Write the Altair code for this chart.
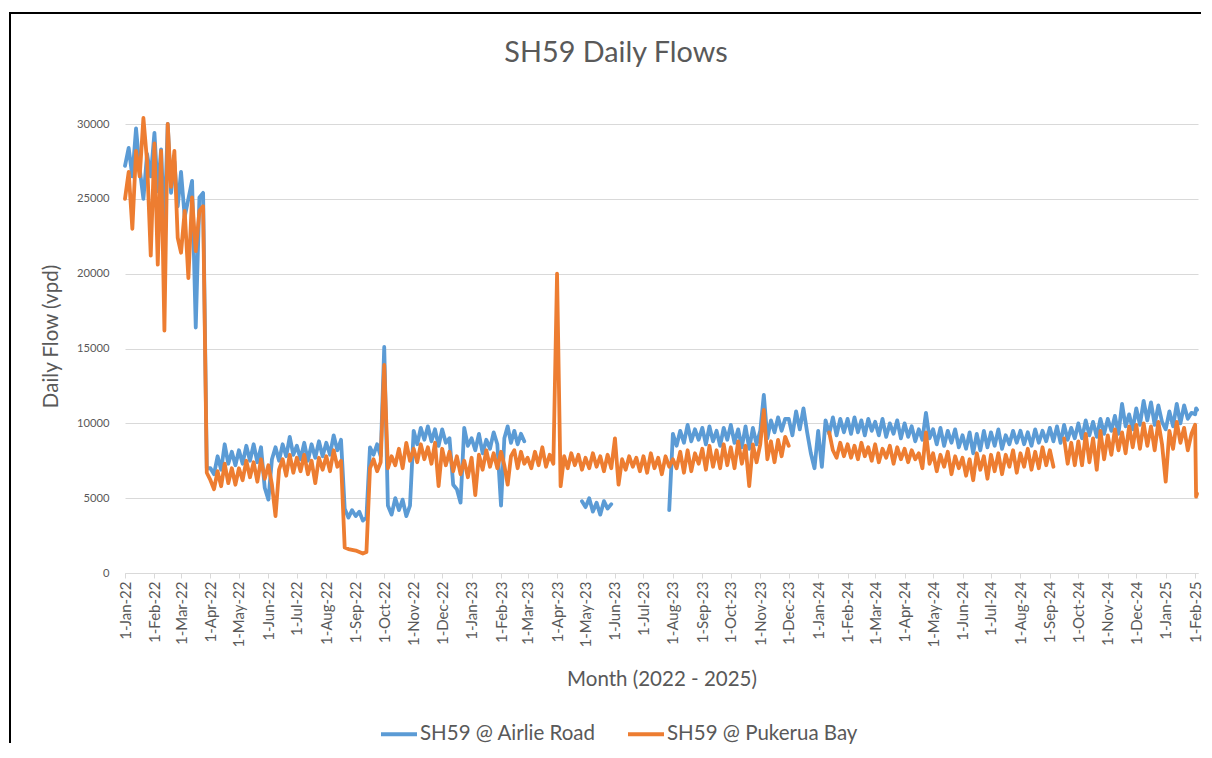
import altair as alt
import pandas as pd

# ---------------- data (8 samples per month) ----------------
chart_title = "SH59 Daily Flows"
series_names = ["SH59 @ Airlie Road", "SH59 @ Pukerua Bay"]
series_colors = ["#5B9BD5", "#ED7D31"]

month_starts = pd.date_range("2022-01-01", "2025-01-01", freq="MS")  # Jan-22 .. Jan-25
feb25_days = ["2025-02-01", "2025-02-02", "2025-02-03"]

airlie = [
    27200, 28400, 26500, 29700, 27000, 25000, 28000, 26500,   # Jan-22
    29400, 25500, 28300, 23000, 30000, 25400, 27500, 24500,   # Feb-22
    26800, 23800, 25000, 26200, 16400, 25100, 25400, 7000,    # Mar-22
    7000, 6600, 7800, 6900, 8600, 7300, 8100, 7200,           # Apr-22
    8200, 7300, 8500, 7500, 8600, 7400, 8400, 5700,           # May-22
    4900, 7600, 8400, 7500, 8600, 7800, 9100, 7900,           # Jun-22
    8500, 7600, 8700, 7500, 8600, 7700, 8800, 7800,           # Jul-22
    8700, 7900, 9200, 8200, 8900, 4300, 3700, 4200,           # Aug-22
    3800, 4100, 3500, 3700, 8400, 7900, 8600, 7800,           # Sep-22
    15100, 4500, 3900, 5000, 4200, 4900, 3800, 4500,          # Oct-22
    9500, 8600, 9700, 8900, 9800, 8800, 9600, 8500,           # Nov-22
    9600, 8700, 9000, 5900, 5600, 4700, 9700, 8500,           # Dec-22
    9000, 8200, 9300, 8000, 8900, 8300, 9400, 8600,           # Jan-23
    4500, 9000, 9800, 8700, 9500, 8600, 9300, 8800,           # Feb-23
    None, None, None, None, None, None, None, None,           # Mar-23
    None, None, None, None, None, None, None, 4800,           # Apr-23
    4400, 5000, 4100, 4700, 3900, 4800, 4300, 4600,           # May-23
    None, None, None, None, None, None, None, None,           # Jun-23
    None, None, None, None, None, None, None, 4200,           # Jul-23
    9300, 8500, 9500, 8700, 9900, 8800, 9600, 8900,           # Aug-23
    9700, 8600, 9800, 8800, 9500, 8500, 9700, 8900,           # Sep-23
    9900, 8700, 9600, 8400, 9800, 8300, 9700, 8600,           # Oct-23
    9500, 11900, 9000, 10200, 9400, 10400, 9500, 10300,       # Nov-23
    10300, 9200, 10800, 9600, 11000, 9400, 8000, 7000,        # Dec-23
    9500, 7100, 10200, 9300, 10400, 9200, 10300, 9400,        # Jan-24
    10300, 9300, 10400, 9400, 10200, 9200, 10300, 9500,       # Feb-24
    10100, 9200, 10300, 9100, 10000, 9300, 10200, 9000,       # Mar-24
    10000, 9100, 9800, 8800, 9600, 8900, 10700, 9000,         # Apr-24
    9600, 8600, 9700, 8500, 9500, 8700, 9600, 8400,           # May-24
    9200, 8300, 9400, 8000, 9300, 8200, 9500, 8400,           # Jun-24
    9400, 8500, 9600, 8300, 9200, 8600, 9500, 8700,           # Jul-24
    9500, 8600, 9400, 8500, 9600, 8700, 9500, 8800,           # Aug-24
    9700, 8800, 9800, 8700, 9900, 8900, 9700, 9000,           # Sep-24
    10000, 9000, 10200, 9200, 10100, 9100, 10300, 9300,       # Oct-24
    10300, 9500, 10500, 9300, 11300, 9800, 10600, 9600,       # Nov-24
    11000, 9900, 11500, 10200, 11400, 9900, 11200, 10100,     # Dec-24
    9600, 10800, 9800, 11300, 10000, 11200, 10300, 10700,     # Jan-25
    10600, 11000, 10900,                                      # Feb-25 (1st-3rd)
]

pukerua = [
    25000, 26800, 23000, 28200, 26500, 30400, 27500, 21200,   # Jan-22
    28700, 20600, 28200, 16200, 30000, 25800, 28200, 22400,   # Feb-22
    21400, 24200, 19700, 25100, 21500, 24200, 24500, 6700,    # Mar-22
    6200, 5600, 6800, 5800, 7300, 6000, 7000, 5900,           # Apr-22
    7000, 6200, 7500, 6400, 7400, 6100, 7600, 6300,           # May-22
    7200, 5900, 3800, 6900, 7600, 6500, 7900, 6700,           # Jun-22
    7700, 6800, 7900, 6600, 7500, 6000, 7700, 6900,           # Jul-22
    7800, 6800, 8200, 7100, 7500, 1700, 1600, 1550,           # Aug-22
    1500, 1400, 1300, 1400, 7000, 7600, 6800, 7400,           # Sep-22
    13900, 7000, 7800, 7200, 8300, 7000, 8700, 7500,          # Oct-22
    8300, 7400, 8600, 7600, 8400, 7300, 8700, 5800,           # Nov-22
    8300, 7200, 8100, 6800, 7800, 6600, 7500, 6400,           # Dec-22
    7700, 5200, 7900, 6900, 8200, 7100, 8000, 7000,           # Jan-23
    8100, 7200, 5900, 7800, 8200, 7000, 8100, 7300,           # Feb-23
    7700, 7000, 8100, 7200, 8400, 7100, 7900, 7300,           # Mar-23
    20000, 5800, 7800, 7000, 8000, 7200, 7900, 6900,          # Apr-23
    7700, 7000, 8000, 7100, 7800, 6800, 7900, 7000,           # May-23
    9000, 5900, 7600, 6900, 7800, 7100, 7700, 6800,           # Jun-23
    7800, 6700, 8000, 7000, 7700, 6600, 7800, 7100,           # Jul-23
    7600, 7000, 8100, 6700, 8200, 6800, 8000, 7300,           # Aug-23
    8300, 6900, 8500, 7100, 8200, 7000, 8600, 7200,           # Sep-23
    8400, 7000, 8800, 7300, 8500, 5800, 8600, 7400,           # Oct-23
    8600, 10900, 7600, 8800, 7400, 8900, 7800, 9100,          # Nov-23
    8500, None, None, None, None, None, None, None,           # Dec-23
    None, None, None, 9400, 8200, 7700, 8700, 7800,           # Jan-24
    8600, 7700, 8500, 7600, 8700, 7800, 8400, 7500,           # Feb-24
    8600, 7400, 8300, 7700, 8500, 7300, 8400, 7600,           # Mar-24
    8300, 7400, 8200, 7600, 8000, 7000, 9400, 7300,           # Apr-24
    8000, 6800, 7900, 7100, 8100, 6600, 7800, 7000,           # May-24
    7700, 6500, 7600, 6200, 8000, 6900, 7800, 6300,           # Jun-24
    7900, 6800, 8000, 6600, 7900, 7100, 8200, 6700,           # Jul-24
    8000, 7100, 8300, 6900, 8100, 7000, 8400, 7200,           # Aug-24
    8200, 7100, None, None, 9000, 7300, 8700, 7200,           # Sep-24
    8800, 7200, 9300, 7400, 9000, 6900, 9500, 7600,           # Oct-24
    9200, 7900, 9600, 8200, 9400, 8000, 9800, 8400,           # Nov-24
    9900, 8300, 10000, 8500, 9800, 8200, 10100, 8600,         # Dec-24
    6100, 9500, 8300, 10100, 8700, 9700, 8200, 9300,          # Jan-25
    9900, 5100, 5300,                                         # Feb-25 (1st-3rd)
]

y_ticks = [0, 5000, 10000, 15000, 20000, 25000, 30000]

# ---------------- build long table ----------------
dates = []
for ms in month_starts:
    dim = ms.days_in_month
    for k in range(8):
        dates.append(ms + pd.Timedelta(days=k * dim / 8))
dates += [pd.Timestamp(d) for d in feb25_days]

rows = []
for name, vals in zip(series_names, [airlie, pukerua]):
    seg = 0
    gap = True
    for d, v in zip(dates, vals):
        if v is None:
            gap = True
            continue
        if gap:
            seg += 1
            gap = False
        rows.append({"date": d.strftime("%Y-%m-%dT%H:%M:%SZ"), "flow": v,
                     "series": name, "seg": f"{name}-{seg}"})
df = pd.DataFrame(rows)

FONT = "Lato"
GREY = "#595959"
LIGHT = "#d9d9d9"

tick_dates = [alt.DateTime(year=ms.year, month=ms.month, date=1, utc=True) for ms in month_starts]
tick_dates.append(alt.DateTime(year=2025, month=2, date=1, utc=True))

x = alt.X(
    "date:T",
    scale=alt.Scale(type="utc", domain=[alt.DateTime(year=2022, month=1, date=1, utc=True),
                                        alt.DateTime(year=2025, month=2, date=4, utc=True)]),
    axis=alt.Axis(values=tick_dates, labelExpr="utcFormat(datum.value, '%-d-%b-%y')",
                  labelAngle=270,
                  labelOverlap=False, labelBound=False, grid=False, domain=True,
                  domainColor=LIGHT, domainWidth=1, ticks=True, tickColor=LIGHT, tickSize=5,
                  labelFont=FONT, labelFontSize=15, labelColor=GREY, labelPadding=3,
                  title="Month (2022 - 2025)", titleFont=FONT, titleFontSize=20.5,
                  titleFontWeight="normal", titleColor=GREY, titlePadding=23),
)
y = alt.Y(
    "flow:Q",
    scale=alt.Scale(domain=[0, 30000], nice=False),
    axis=alt.Axis(values=y_ticks, format="d", grid=True, gridColor=LIGHT, gridWidth=1,
                  domain=False, ticks=False, labelFont=FONT, labelFontSize=11.2,
                  labelColor=GREY, labelPadding=16,
                  title="Daily Flow (vpd)", titleFont=FONT, titleFontSize=20.5,
                  titleFontWeight="normal", titleColor=GREY, titlePadding=15, titleY=212),
)
color = alt.Color(
    "series:N",
    scale=alt.Scale(domain=series_names, range=series_colors),
    legend=alt.Legend(title=None, orient="none", legendX=254, legendY=590,
                      direction="horizontal", symbolType="stroke", symbolSize=1296,
                      symbolStrokeWidth=4, labelFont=FONT, labelFontSize=20.5,
                      labelColor=GREY, columnPadding=24, labelOffset=1, labelLimit=400),
)

base = alt.Chart(df).encode(x=x, y=y, color=color, detail="seg:N")
line_style = dict(strokeWidth=3.8, strokeJoin="round", strokeCap="round")
blue = base.transform_filter(alt.datum.series == series_names[0]).mark_line(**line_style)
orange = base.transform_filter(alt.datum.series == series_names[1]).mark_line(**line_style)

# outer frame of the original chart image (top and left edges only)
frame_src = alt.Data(values=[{"a": 1}])
border_top = alt.Chart(frame_src).mark_rule(color="black", strokeWidth=2).encode(
    x=alt.value(-115), x2=alt.value(1076), y=alt.value(-111), y2=alt.value(-111))
border_left = alt.Chart(frame_src).mark_rule(color="black", strokeWidth=2).encode(
    x=alt.value(-115), x2=alt.value(-115), y=alt.value(-112), y2=alt.value(619))

title_mark = alt.Chart(alt.Data(values=[{"t": chart_title}])).mark_text(
    font=FONT, fontSize=28.8, color=GREY, align="center", baseline="alphabetic"
).encode(text="t:N", x=alt.value(491), y=alt.value(-62))

chart = alt.layer(border_top, border_left, title_mark, blue, orange).properties(
    width=1073,
    height=449,
    autosize=alt.AutoSizeParams(type="none"),
    padding={"left": 117, "top": 116, "right": 6, "bottom": 171},
).configure_view(stroke=None)

chart.save("out.html", embed_options={"renderer": "svg", "actions": False})
